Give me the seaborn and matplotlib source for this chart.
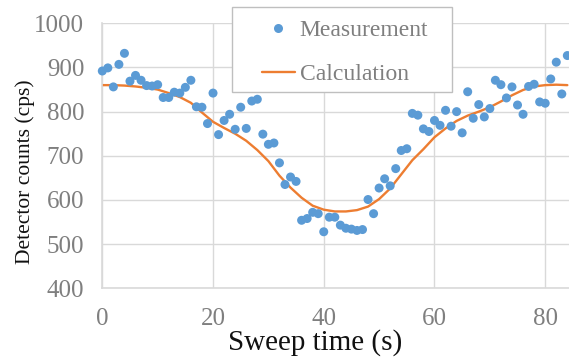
import numpy as np
import pandas as pd
import matplotlib
matplotlib.use("Agg")
import matplotlib.pyplot as plt
import seaborn as sns
from matplotlib.lines import Line2D
from matplotlib.patches import Rectangle

# Measurement data (sweep time in s, detector counts in cps)
meas_t = list(range(0, 85))
meas_counts = [892, 899, 856, 907, 932, 869, 882, 871, 859, 858,
               861, 832, 832, 844, 842, 855, 871, 811, 810, 773,
               842, 748, 780, 794, 760, 810, 762, 824, 828, 749,
               726, 729, 684, 635, 652, 642, 554, 558, 572, 569,
               528, 561, 561, 543, 536, 534, 531, 533, 601, 569,
               627, 648, 632, 671, 712, 716, 796, 792, 761, 755,
               780, 769, 803, 767, 800, 752, 845, 785, 816, 788,
               807, 871, 861, 831, 856, 815, 794, 857, 862, 822,
               819, 874, 912, 840, 927]

# Calculation curve
calc_t = [0, 2, 4, 6, 8, 10, 12, 14, 16, 18, 20, 22, 24, 26, 28, 30, 32, 34,
          36, 38, 40, 42, 44, 46, 48, 50, 52, 54, 56, 58, 60, 62, 64, 66, 68,
          70, 72, 74, 76, 78, 80, 82, 84]
calc_counts = [860, 860, 859, 857, 854, 850, 842, 833, 820, 798, 777, 763,
               750, 734, 713, 688, 655, 628, 605, 587, 578, 574, 574, 577,
               585, 602, 626, 658, 690, 715, 742, 762, 779, 791, 800, 810,
               823, 837, 849, 857, 860, 861, 860]

x_ticks = [0, 20, 40, 60, 80]
y_ticks = [400, 500, 600, 700, 800, 900, 1000]

sns.set_theme(style="white")
plt.rcParams['font.family'] = ['Liberation Serif', 'DejaVu Serif']

BLUE = "#5b9bd5"
ORANGE = "#ed7d31"
GRID = "#d9d9d9"
TICKC = "#7f7f7f"

W, H = 569, 358
fig = plt.figure(figsize=(W / 100, H / 100), dpi=100)
ax = fig.add_axes([102.3 / W, 1 - 288.3 / H, 1 - 102.3 / W, (288.3 - 23.3) / H])

df_m = pd.DataFrame({"t": meas_t, "c": meas_counts})
df_c = pd.DataFrame({"t": calc_t, "c": calc_counts})

sns.lineplot(data=df_c, x="t", y="c", ax=ax, color=ORANGE, linewidth=1.7,
             zorder=2, legend=False)
sns.scatterplot(data=df_m, x="t", y="c", ax=ax, color=BLUE, s=42,
                edgecolor="none", zorder=3, legend=False, clip_on=False)

ax.set_xlim(0, 84.3)
ax.set_ylim(400, 1000)
ax.set_xticks(x_ticks)
ax.set_yticks(y_ticks)
ax.grid(True, color=GRID, linewidth=1.0)
ax.set_axisbelow(True)
for side in ["top", "right"]:
    ax.spines[side].set_visible(False)
for side in ["left", "bottom"]:
    ax.spines[side].set_color(GRID)
    ax.spines[side].set_linewidth(1.2)

ax.tick_params(axis="both", length=0, labelsize=18, labelcolor=TICKC)
ax.tick_params(axis="x", pad=14)
ax.tick_params(axis="y", pad=13)

ax.set_xlabel("Sweep time (s)", fontsize=21, color="#111111")
ax.xaxis.set_label_coords(0.455, -0.152)
ax.set_ylabel("Detector counts (cps)", fontsize=15.5, color="#111111")
ax.yaxis.set_label_coords(-0.144, 0.44)

# legend frame
fig.patches.append(Rectangle((231.5 / W, 1 - 92.3 / H), (452.3 - 231.5) / W,
                             (92.3 - 7.3) / H, transform=fig.transFigure,
                             facecolor="white", edgecolor="#bfbfbf",
                             linewidth=1.0, zorder=5))

handles = [
    Line2D([], [], marker="o", linestyle="none", color=BLUE, markersize=6.5,
           markeredgewidth=0),
    Line2D([], [], color=ORANGE, linewidth=1.7),
]
leg = fig.legend(handles, ["Measurement", "Calculation"],
                 loc="upper left", bbox_to_anchor=(261.5 / W, 1 - 19.5 / H),
                 bbox_transform=fig.transFigure, fontsize=17, frameon=False,
                 borderpad=0, labelspacing=0.95, handlelength=1.4,
                 handletextpad=0.22, borderaxespad=0)
leg.set_zorder(6)
for t in leg.get_texts():
    t.set_color(TICKC)

fig.savefig("out.png", dpi=100)
